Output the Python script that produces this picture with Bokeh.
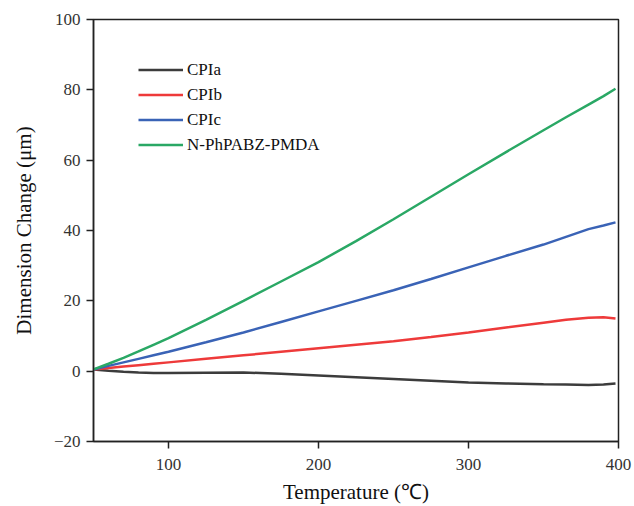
from bokeh.plotting import figure
from bokeh.models import Range1d, FixedTicker, Legend, LegendItem
from bokeh.embed import file_html
from bokeh.resources import INLINE

temp = [50, 60, 70, 80, 90, 100, 125, 150, 175, 200, 225, 250, 275, 300, 325, 350, 365, 380, 390, 398]
cpia = [0.5, 0.1, -0.2, -0.4, -0.5, -0.5, -0.45, -0.4, -0.7, -1.2, -1.7, -2.2, -2.7, -3.2, -3.5, -3.7, -3.8, -3.9, -3.8, -3.5]
cpib = [0.5, 0.9, 1.3, 1.7, 2.1, 2.5, 3.5, 4.5, 5.5, 6.5, 7.5, 8.5, 9.7, 11.0, 12.4, 13.8, 14.6, 15.2, 15.3, 15.0]
cpic = [0.5, 1.5, 2.5, 3.5, 4.5, 5.5, 8.2, 11.0, 14.0, 17.0, 20.0, 23.0, 26.2, 29.5, 32.8, 36.0, 38.2, 40.4, 41.4, 42.3]
npha = [0.5, 2.1, 3.8, 5.6, 7.5, 9.4, 14.6, 20.0, 25.5, 31.0, 37.0, 43.2, 49.6, 56.0, 62.3, 68.5, 72.2, 75.8, 78.2, 80.3]

series_names = ["CPIa", "CPIb", "CPIc", "N-PhPABZ-PMDA"]
series_vals = [cpia, cpib, cpic, npha]
colors = ["#3c3c3c", "#ee3a3a", "#3a63b6", "#2aa865"]

x_ticks = [100, 200, 300, 400]
y_ticks = [-20, 0, 20, 40, 60, 80, 100]

FONT = "Liberation Serif"

p = figure(width=634, height=506, output_backend="svg", toolbar_location=None,
           x_range=Range1d(50, 400), y_range=Range1d(-20, 100),
           min_border_left=93, min_border_right=16, min_border_top=19, min_border_bottom=63)
p.xgrid.visible = False
p.ygrid.visible = False
p.outline_line_color = "#222222"
p.outline_line_width = 1.5
p.background_fill_color = "white"
p.border_fill_color = "white"

renderers = []
for name, vals, c in zip(series_names, series_vals, colors):
    r = p.line(temp, vals, line_color=c, line_width=2.5)
    renderers.append((name, r))

for ax in (p.xaxis[0], p.yaxis[0]):
    ax.axis_line_width = 1.5
    ax.axis_line_color = "#222222"
    ax.major_tick_line_width = 1.5
    ax.major_tick_line_color = "#222222"
    ax.major_tick_in = 0
    ax.major_tick_out = 7
    ax.minor_tick_line_color = None
    ax.major_label_text_font = FONT
    ax.major_label_text_font_size = "17px"
    ax.major_label_text_color = "#333333"
    ax.axis_label_text_font = FONT
    ax.axis_label_text_font_size = "21px"
    ax.axis_label_text_font_style = "normal"
    ax.axis_label_text_color = "#111111"

p.xaxis[0].ticker = FixedTicker(ticks=x_ticks)
p.yaxis[0].ticker = FixedTicker(ticks=y_ticks)
p.xaxis[0].axis_label = "Temperature (℃)"
p.yaxis[0].axis_label = "Dimension Change (μm)"
p.xaxis[0].major_label_standoff = 10
p.yaxis[0].major_label_standoff = 6
p.xaxis[0].axis_label_standoff = 7
p.yaxis[0].axis_label_standoff = 15

legend = Legend(items=[LegendItem(label=n, renderers=[r]) for n, r in renderers],
                location=(45, 286))
legend.border_line_color = None
legend.background_fill_alpha = 0
legend.padding = 0
legend.margin = 0
legend.spacing = 4
legend.glyph_width = 45
legend.glyph_height = 21
legend.label_height = 21
legend.label_standoff = 4
legend.label_text_font = FONT
legend.label_text_font_size = "17px"
legend.label_text_color = "#111111"
p.add_layout(legend, "center")

open("out.html", "w").write(file_html(p, INLINE))
